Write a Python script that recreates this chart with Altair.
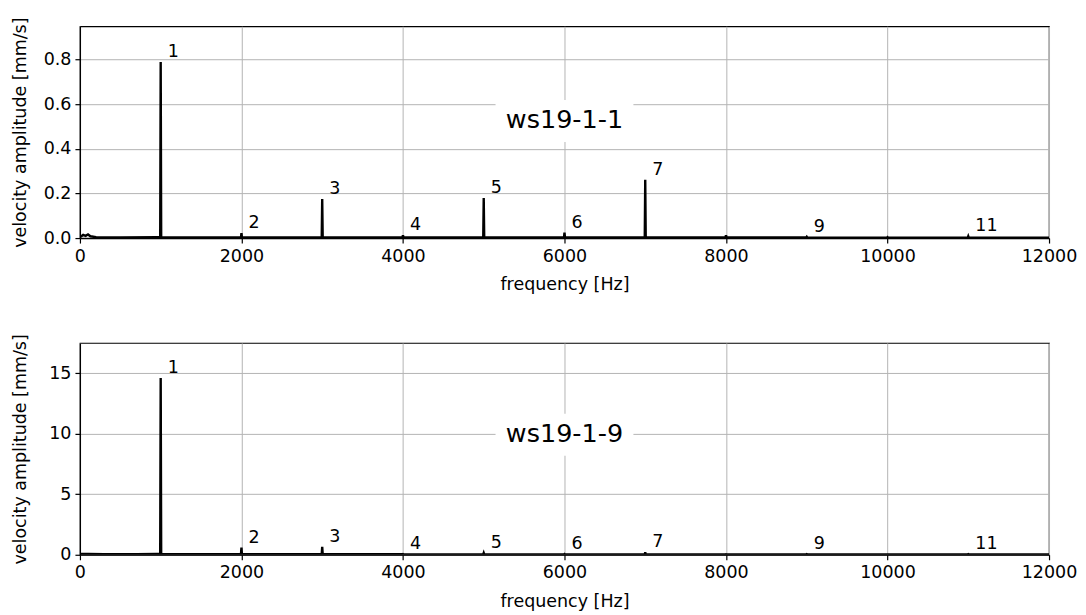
import altair as alt
import pandas as pd

# ---- data ----
harm_num = [1, 2, 3, 4, 5, 6, 7, 8, 9, 10, 11]
harm_freq = [1000, 2000, 3000, 4000, 5000, 6000, 7000, 8000, 9000, 10000, 11000]
top_amp = [0.79, 0.022, 0.175, 0.012, 0.18, 0.024, 0.262, 0.012, 0.006, 0.004, 0.008]
bot_amp = [14.6, 0.6, 0.65, 0.06, 0.15, 0.06, 0.2, 0.04, 0.05, 0.03, 0.05]
labelled = [1, 2, 3, 4, 5, 6, 7, 9, 11]

# low-frequency / background parts of the spectra
top_bg_freq = [0, 40, 70, 100, 130, 200, 500, 950, 1500, 2500, 3500, 4500, 5500, 6500, 7500, 8500, 9500, 10500, 11500, 12000]
top_bg_amp = [0.004, 0.014, 0.01, 0.016, 0.008, 0.004, 0.003, 0.004, 0.003, 0.003, 0.003, 0.003, 0.003, 0.003, 0.003, 0.003, 0.002, 0.002, 0.002, 0.002]
bot_bg_freq = [0, 100, 300, 700, 950, 1500, 2500, 3500, 4500, 5500, 6500, 7500, 8500, 9500, 10500, 11500, 12000]
bot_bg_amp = [0.06, 0.07, 0.05, 0.04, 0.06, 0.04, 0.04, 0.04, 0.03, 0.03, 0.03, 0.03, 0.03, 0.03, 0.03, 0.03, 0.03]

titles = ["ws19-1-1", "ws19-1-9"]
title_freq = [6000, 6000]
title_val = [0.53, 10.0]

y_domains = [[0, 0.95], [0, 17.5]]
y_ticks = [[0, 0.2, 0.4, 0.6, 0.8], [0, 5, 10, 15]]
y_formats = [".1f", "d"]
x_ticks = [0, 2000, 4000, 6000, 8000, 10000, 12000]

FONT = "DejaVu Sans"
FS = 17.5


def spectrum_table(bg_f, bg_a, amps):
    rows = [(f, a) for f, a in zip(bg_f, bg_a)]
    base_at = lambda f: min(zip(bg_f, bg_a), key=lambda p: abs(p[0] - f))[1]
    for f, a in zip(harm_freq, amps):
        b = base_at(f)
        rows += [(f - 6, b), (f, a), (f + 6, b)]
    rows.sort()
    return pd.DataFrame(rows, columns=["freq", "amp"])


def panel(i, bg_f, bg_a, amps):
    spec = spectrum_table(bg_f, bg_a, amps)
    xs = alt.X("freq:Q", scale=alt.Scale(domain=[0, 12000], nice=False),
               axis=alt.Axis(values=x_ticks, format="d", title="frequency [Hz]", grid=True))
    ys = alt.Y("amp:Q", scale=alt.Scale(domain=y_domains[i], nice=False, zero=True),
               axis=alt.Axis(values=y_ticks[i], format=y_formats[i],
                             title="velocity amplitude [mm/s]", grid=True,
                             titleX=-59, titleBaseline="middle"))
    line = alt.Chart(spec).mark_line(color="black", strokeWidth=2.4, clip=True).encode(x=xs, y=ys)

    lab = pd.DataFrame({"freq": [f for n, f in zip(harm_num, harm_freq) if n in labelled],
                        "amp": [a for n, a in zip(harm_num, amps) if n in labelled],
                        "txt": [str(n) for n in harm_num if n in labelled]})
    labels = alt.Chart(lab).mark_text(align="left", baseline="middle", dx=7, dy=-10,
                                      font=FONT, fontSize=FS, color="black").encode(
        x="freq:Q", y="amp:Q", text="txt:N")

    tdf = pd.DataFrame({"freq": [title_freq[i]], "amp": [title_val[i]], "txt": [titles[i]]})
    box = alt.Chart(tdf).mark_rect(color="white", xOffset=-69, x2Offset=69,
                                   yOffset=-20, y2Offset=22).encode(
        x="freq:Q", x2="freq:Q", y="amp:Q", y2="amp:Q")
    ttl = alt.Chart(tdf).mark_text(align="center", baseline="middle", font=FONT,
                                   fontSize=25.5, color="black").encode(
        x="freq:Q", y="amp:Q", text="txt:N")

    return alt.layer(line, box, labels, ttl).properties(width=970, height=212)


top = panel(0, top_bg_freq, top_bg_amp, top_amp)
bot = panel(1, bot_bg_freq, bot_bg_amp, bot_amp)

chart = alt.vconcat(top, bot, spacing=39).properties(
    padding={"left": 3, "top": 8, "right": 0, "bottom": 0}
).configure_view(stroke="black", strokeWidth=1.2).configure_axis(
    domainColor="black", domainWidth=1.2, tickColor="black", tickWidth=1.2, tickSize=5,
    gridColor="#b4b4b4", gridWidth=1,
    labelFont=FONT, labelFontSize=FS, labelColor="black", labelPadding=4,
    titleFont=FONT, titleFontSize=FS, titleFontWeight="normal", titleColor="black",
    titlePadding=11,
).configure_axisX(labelFlush=False)

chart.save("out.html", embed_options={"renderer": "svg", "actions": False})
